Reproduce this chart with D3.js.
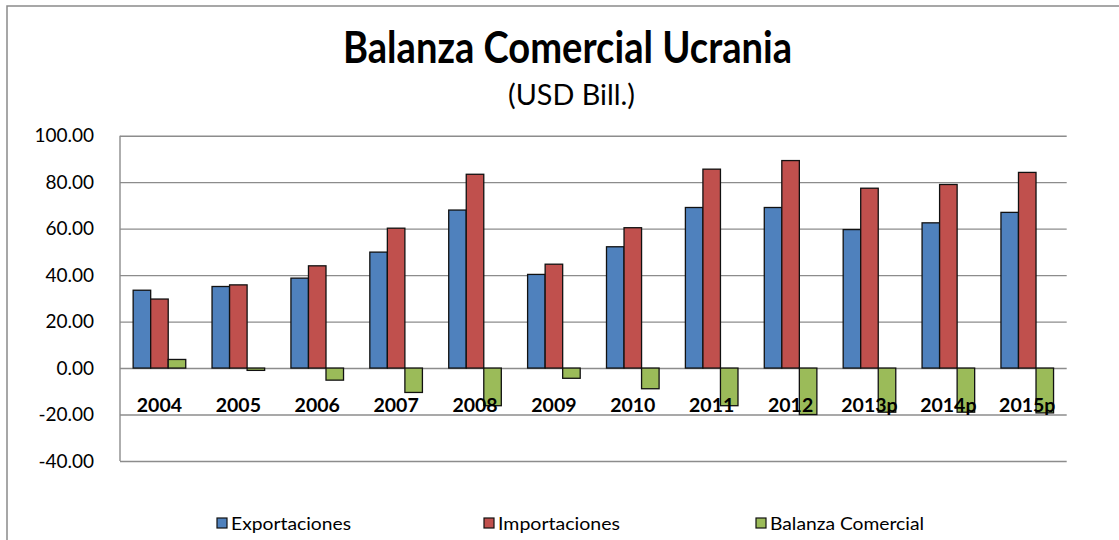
<!DOCTYPE html>
<html>
<head>
<meta charset="utf-8">
<script src="https://cdn.jsdelivr.net/npm/d3@7"></script>
<style>
	body { margin: 0; background: #fff; }
	svg { display: block; font-family: Lato, "Open Sans", sans-serif; }
</style>
</head>
<body>
<div id="chart"></div>
<script>
var years = ['2004', '2005', '2006', '2007', '2008', '2009', '2010', '2011', '2012', '2013p', '2014p', '2015p'];
var exportaciones = [33.5, 35.1, 38.7, 49.9, 68.0, 40.3, 52.2, 69.1, 69.1, 59.6, 62.5, 67.0];
var importaciones = [29.7, 35.8, 44.0, 60.2, 83.4, 44.7, 60.4, 85.6, 89.3, 77.4, 79.0, 84.2];
var balanza = [3.7, -1.0, -5.2, -10.5, -16.2, -4.4, -8.9, -16.2, -20.0, -19.0, -19.0, -19.3];
var seriesNames = ['Exportaciones', 'Importaciones', 'Balanza Comercial'];
var colors = ['#4f81bd', '#c0504d', '#9bbb59'];
var yTicks = [-40, -20, 0, 20, 40, 60, 80, 100];

var width = 1119, height = 540;
var plot = {left: 120, right: 1066.7, top: 135.7, bottom: 461};

var svg = d3.select('#chart').append('svg')
	.attr('width', width)
	.attr('height', height);

// outer chart frame (runs off the right and bottom edges)
svg.append('rect')
	.attr('x', 7).attr('y', 6)
	.attr('width', width + 20).attr('height', height + 20)
	.attr('fill', 'none')
	.attr('stroke', '#8a8a8a')
	.attr('stroke-width', 1.5);

var x = d3.scaleBand()
	.domain(years)
	.range([plot.left, plot.right])
	.paddingInner(1.5 / 4.5)
	.paddingOuter(0.75 / 4.5);

var xs = d3.scaleBand()
	.domain(d3.range(3))
	.range([0, x.bandwidth()]);

var y = d3.scaleLinear()
	.domain([-40, 100])
	.range([plot.bottom, plot.top]);

// plain hyphen for negatives, like excel
var fmt = d3.formatLocale({decimal: '.', thousands: ',', grouping: [3], currency: ['$', ''], minus: '-'}).format('.2f');

// gridlines + y labels
var yAxis = d3.axisLeft(y)
	.tickValues(yTicks)
	.tickSize(plot.left - plot.right)
	.tickPadding(26)
	.tickFormat(fmt);

var gy = svg.append('g')
	.attr('transform', 'translate(' + plot.left + ',0)')
	.call(yAxis);
gy.select('.domain').remove();
gy.selectAll('.tick line')
	.attr('stroke', '#8c8c8c')
	.attr('stroke-width', 1.4);
gy.selectAll('.tick text')
	.attr('fill', '#000')
	.attr('font-size', 19)
	.attr('font-family', 'Lato, sans-serif');

svg.append('line')
	.attr('x1', plot.left).attr('x2', plot.left)
	.attr('y1', plot.top).attr('y2', plot.bottom)
	.attr('stroke', '#8c8c8c')
	.attr('stroke-width', 1.4);

var rows = years.map(function(d, i){
	return {year: d, values: [exportaciones[i], importaciones[i], balanza[i]]};
});

var groups = svg.append('g').selectAll('g')
	.data(rows)
	.enter().append('g')
	.attr('transform', function(d){
		return 'translate(' + x(d.year) + ',0)';
	});

groups.selectAll('rect')
	.data(function(d){ return d.values; })
	.enter().append('rect')
	.attr('x', function(d, i){ return xs(i); })
	.attr('y', function(d){ return y(Math.max(0, d)); })
	.attr('width', xs.bandwidth())
	.attr('height', function(d){ return Math.abs(y(d) - y(0)); })
	.attr('fill', function(d, i){ return colors[i]; })
	.attr('stroke', '#111')
	.attr('stroke-width', 1.3);

// category labels sit just under the zero line, over the bars
svg.append('g').selectAll('text')
	.data(years)
	.enter().append('text')
	.attr('x', function(d){ return x(d) + x.bandwidth() / 2; })
	.attr('y', 412)
	.attr('text-anchor', 'middle')
	.attr('font-size', 19.5)
	.attr('font-weight', 'bold')
	.attr('fill', '#000')
	.text(function(d){ return d; });

// title
svg.append('text')
	.attr('x', 567.5).attr('y', 63)
	.attr('text-anchor', 'middle')
	.attr('font-size', 44)
	.attr('font-weight', 'bold')
	.attr('textLength', 449)
	.attr('lengthAdjust', 'spacingAndGlyphs')
	.text('Balanza Comercial Ucrania');

svg.append('text')
	.attr('x', 571.5).attr('y', 105)
	.attr('text-anchor', 'middle')
	.attr('font-size', 28)
	.attr('textLength', 127)
	.attr('lengthAdjust', 'spacingAndGlyphs')
	.text('(USD Bill.)');

// legend
var legendX = [217, 484, 756];
var legendW = [120, 122, 154];
var legend = svg.append('g').selectAll('g')
	.data(seriesNames)
	.enter().append('g')
	.attr('transform', function(d, i){
		return 'translate(' + [legendX[i], 518] + ')';
	});

legend.append('rect')
	.attr('width', 10).attr('height', 10)
	.attr('fill', function(d, i){ return colors[i]; })
	.attr('stroke', '#111')
	.attr('stroke-width', 1.2);

legend.append('text')
	.attr('x', 14).attr('y', 12)
	.attr('font-size', 18)
	.attr('fill', '#000')
	.attr('textLength', function(d, i){ return legendW[i]; })
	.attr('lengthAdjust', 'spacingAndGlyphs')
	.text(function(d){ return d; });
</script>
</body>
</html>
